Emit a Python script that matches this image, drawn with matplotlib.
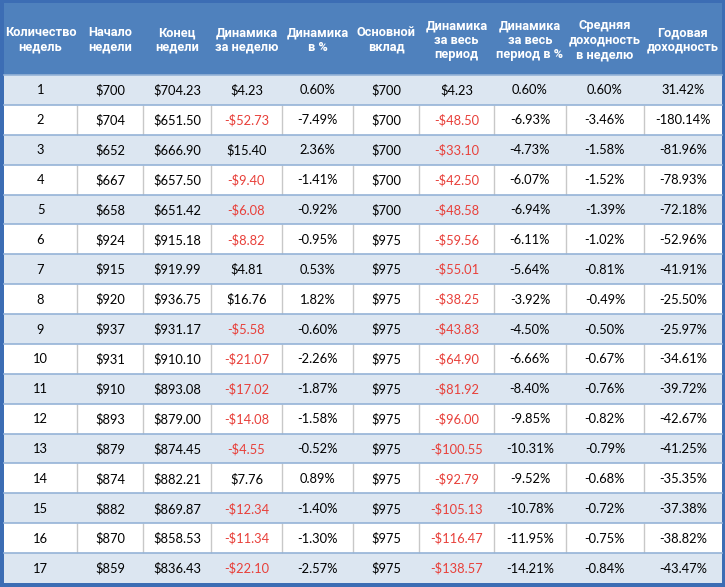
import matplotlib
matplotlib.use("Agg")
import matplotlib.pyplot as plt
from matplotlib.patches import Rectangle

# ---- data ----
headers = ["Количество\nнедель", "Начало\nнедели", "Конец\nнедели", "Динамика\nза неделю",
           "Динамика\nв %", "Основной\nвклад", "Динамика\nза весь\nпериод",
           "Динамика\nза весь\nпериод в %", "Средняя\nдоходность\nв неделю", "Годовая\nдоходность"]
weeks = list(range(1, 18))
start = [700, 704, 652, 667, 658, 924, 915, 920, 937, 931, 910, 893, 879, 874, 882, 870, 859]
end = [704.23, 651.50, 666.90, 657.50, 651.42, 915.18, 919.99, 936.75, 931.17, 910.10,
       893.08, 879.00, 874.45, 882.21, 869.87, 858.53, 836.43]
week_change = [4.23, -52.73, 15.40, -9.40, -6.08, -8.82, 4.81, 16.76, -5.58, -21.07,
               -17.02, -14.08, -4.55, 7.76, -12.34, -11.34, -22.10]
week_pct = [0.60, -7.49, 2.36, -1.41, -0.92, -0.95, 0.53, 1.82, -0.60, -2.26,
            -1.87, -1.58, -0.52, 0.89, -1.40, -1.30, -2.57]
deposit = [700, 700, 700, 700, 700, 975, 975, 975, 975, 975, 975, 975, 975, 975, 975, 975, 975]
total_change = [4.23, -48.50, -33.10, -42.50, -48.58, -59.56, -55.01, -38.25, -43.83, -64.90,
                -81.92, -96.00, -100.55, -92.79, -105.13, -116.47, -138.57]
total_pct = [0.60, -6.93, -4.73, -6.07, -6.94, -6.11, -5.64, -3.92, -4.50, -6.66,
             -8.40, -9.85, -10.31, -9.52, -10.78, -11.95, -14.21]
avg_weekly = [0.60, -3.46, -1.58, -1.52, -1.39, -1.02, -0.81, -0.49, -0.50, -0.67,
              -0.76, -0.82, -0.79, -0.68, -0.72, -0.75, -0.84]
annual = [31.42, -180.14, -81.96, -78.93, -72.18, -52.96, -41.91, -25.50, -25.97, -34.61,
          -39.72, -42.67, -41.25, -35.35, -37.38, -38.82, -43.47]

def money(v, dec=2):
    s = f"${abs(v):,.{dec}f}"
    return ("-" + s) if v < 0 else s

def pct(v):
    return f"{v:.2f}%"

# ---- layout (pixels) ----
W, H = 725, 587
col_edges = [4, 77, 143, 211, 282, 353, 419, 494, 566, 644, 722]
header_top, header_bot = 3, 75
row_h = (583 - header_bot) / len(weeks)

HEADER_BLUE = "#4F81BD"
BORDER_BLUE = "#3C6DB4"
SHADE = "#DCE6F1"
HLINE = "#95B3D7"
VLINE = "#C8C8C8"
RED = "#E8403A"

fig = plt.figure(figsize=(W / 100, H / 100), dpi=100)
ax = fig.add_axes([0, 0, 1, 1])
ax.set_xlim(0, W)
ax.set_ylim(H, 0)
ax.axis("off")

ax.add_patch(Rectangle((0, 0), W, H, facecolor=BORDER_BLUE, edgecolor="none"))
ax.add_patch(Rectangle((col_edges[0], header_top), col_edges[-1] - col_edges[0],
                       header_bot - header_top, facecolor=HEADER_BLUE, edgecolor="none"))

body_font = dict(family=["Lato", "DejaVu Sans"], fontsize=9.3)
head_font = dict(family=["Roboto", "DejaVu Sans"], fontsize=9.2, fontweight="bold")

for j, h in enumerate(headers):
    cx = (col_edges[j] + col_edges[j + 1]) / 2
    ax.text(cx, (header_top + header_bot) / 2 + 1, h, ha="center", va="center",
            color="white", linespacing=1.15, **head_font)

for i, wk in enumerate(weeks):
    y0 = header_bot + i * row_h
    shaded = (i % 2 == 0)
    ax.add_patch(Rectangle((col_edges[0], y0), col_edges[-1] - col_edges[0], row_h,
                           facecolor=SHADE if shaded else "white", edgecolor="none"))
    if not shaded:
        for x in col_edges[1:-1]:
            ax.plot([x, x], [y0, y0 + row_h], color=VLINE, lw=1.0, solid_capstyle="butt")
    ax.plot([col_edges[0], col_edges[-1]], [y0, y0], color=HLINE, lw=1.2)
    cells = [
        (str(wk), "black"),
        (money(start[i], 0), "black"),
        (money(end[i]), "black"),
        (money(week_change[i]), RED if week_change[i] < 0 else "black"),
        (pct(week_pct[i]), "black"),
        (money(deposit[i], 0), "black"),
        (money(total_change[i]), RED if total_change[i] < 0 else "black"),
        (pct(total_pct[i]), "black"),
        (pct(avg_weekly[i]), "black"),
        (pct(annual[i]), "black"),
    ]
    for j, (t, c) in enumerate(cells):
        cx = (col_edges[j] + col_edges[j + 1]) / 2
        ax.text(cx, y0 + row_h / 2 + 0.5, t, ha="center", va="center", color=c, **body_font)

fig.savefig("out.png", dpi=100)
